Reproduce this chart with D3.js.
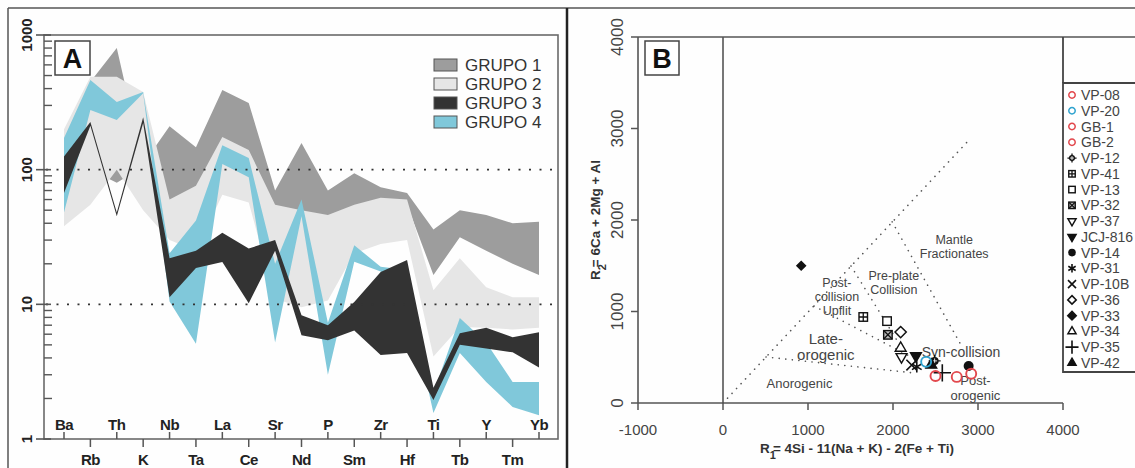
<!DOCTYPE html>
<html>
<head>
<meta charset="utf-8">
<script src="https://cdn.jsdelivr.net/npm/d3@7"></script>
<style>
  body { margin: 0; background: #fff; }
  svg { display: block; font-family: "Liberation Sans", Arial, sans-serif; }
</style>
</head>
<body>
<div id="container"></div>
<script>
// ---- Panel A: spider diagram bands (upper / lower envelope per group)
const elements = ["Ba","Rb","Th","K","Nb","Ta","La","Ce","Sr","Nd","P","Sm","Zr","Hf","Ti","Tb","Y","Tm","Yb"];

const g1Upper = [170, 450, 800, 110, 210, 147, 390, 313, 70, 158, 70, 94, 74, 67, 36, 50, 46, 40, 41];
const g1Lower = [80, 100, 80, 105, 57, 74, 120, 112, 50, 45, 42, 50, 57, 55, 16.5, 31.5, 25, 20, 16.5];

const g2Upper = [200, 490, 490, 377, 60, 76, 175, 140, 55, 50, 46, 55, 62, 60, 12.7, 22, 13.4, 11.3, 11.3];
const g2Lower = [38, 55, 100, 50, 30, 25, 65, 57, 11, 9.5, 10.7, 24, 28, 30, 4.1, 6.8, 6.7, 6.5, 6.7];

const g3Upper = [125, 226, 48, 245, 22, 25, 34, 26, 30, 8.3, 7.0, 10.4, 17.4, 21.3, 2.4, 6.1, 6.7, 5.7, 6.2];
const g3Lower = [67, 212, 45, 222, 11.3, 18.6, 20.6, 10.2, 25, 5.9, 5.4, 6.4, 4.2, 4.35, 1.95, 5.0, 4.7, 4.4, 3.4];

const g4Upper = [172, 463, 318, 377, 24, 42, 152, 122, 20, 60, 7.3, 27.5, 19, 18, 2.2, 7.9, 5.2, 2.65, 2.65];
const g4Lower = [48, 277, 234, 370, 10.5, 5.1, 110, 88, 5.2, 45, 3.0, 20.7, 17.5, 12, 1.56, 4.35, 2.65, 1.73, 1.5];

const groupNames = ["GRUPO 1", "GRUPO 2", "GRUPO 3", "GRUPO 4"];
const yTicksA = [1, 10, 100, 1000];

// ---- Panel B: R1-R2 diagram
const samples = ["VP-08","VP-20","GB-1","GB-2","VP-12","VP-41","VP-13","VP-32","VP-37","JCJ-816","VP-14","VP-31","VP-10B","VP-36","VP-33","VP-34","VP-35","VP-42"];
const sampleR1 = [2500, 2390, 2750, 2920, 2490, 1650, 1930, 1940, 2100, 2270, 2890, 2280, 2220, 2090, 920, 2090, 2580, 2450];
const sampleR2 = [295, 450, 285, 320, 460, 940, 895, 745, 505, 515, 405, 395, 415, 775, 1500, 600, 330, 415];
const sampleSymbols = ["circleRed","circleBlue","circleRed","circleRed","circleCross","squarePlus","square","squareX","triDown","triDownFill","dot","asterisk","times","diamond","diamondFill","tri","plus","triFill"];

const xTicksB = [-1000, 0, 1000, 2000, 3000, 4000];
const yTicksB = [0, 1000, 2000, 3000, 4000];

// field boundaries, in R1/R2 units
const fieldLines = [
  [[0, 0], [2870, 2850]],
  [[1990, 1980], [2800, 635]],
  [[1506, 1497], [2130, 560]],
  [[1070, 1060], [2190, 515]],
  [[506, 503], [2247, 328]]
];
const fieldLabels = [
  {lines: ["Mantle", "Fractionates"], r1: 2720, r2: 1740, size: 12.5},
  {lines: ["Pre-plate", "Collision"], r1: 2010, r2: 1340, size: 12.5},
  {lines: ["Post-", "collision", "Upflit"], r1: 1340, r2: 1270, size: 12.5},
  {lines: ["Late-", "orogenic"], r1: 1210, r2: 650, size: 15},
  {lines: ["Anorogenic"], r1: 900, r2: 165, size: 13},
  {lines: ["Syn-collision"], r1: 2800, r2: 500, size: 14},
  {lines: ["Post-", "orogenic"], r1: 2970, r2: 195, size: 13}
];

const svg = d3.select("#container")
  .append("svg")
  .attr("width", 1135)
  .attr("height", 468);

svg.append("rect").attr("width", 1135).attr("height", 468).attr("fill", "#fefefe");

// ================= PANEL A =================
const xA = d3.scalePoint().domain(elements).range([64, 539]);
const yA = d3.scaleLog().domain([1, 1000]).range([439, 35]);

const bands = [
  {up: g1Upper, lo: g1Lower, color: "#9d9d9d"},
  {up: g2Upper, lo: g2Lower, color: "#e6e6e6"},
  {up: g3Upper, lo: g3Lower, color: "#333333"},
  {up: g4Upper, lo: g4Lower, color: "#80c8da"}
];

const area = d3.area()
  .x((d, i) => xA(elements[i]))
  .y0(d => yA(d[1]))
  .y1(d => yA(d[0]));

const gA = svg.append("g");

// draw order: grupo 1, 2, 4, then 3 on top
[0, 1, 3, 2].forEach(k => {
  const b = bands[k];
  gA.append("path")
    .datum(b.up.map((u, i) => [u, b.lo[i]]))
    .attr("fill", b.color)
    .attr("d", area);
});

// dotted reference lines at 10 and 100
[10, 100].forEach(v => {
  gA.append("line")
    .attr("x1", 46).attr("x2", 556)
    .attr("y1", yA(v)).attr("y2", yA(v))
    .attr("stroke", "#333")
    .attr("stroke-width", 1.6)
    .attr("stroke-dasharray", "2,8.5");
});

// plot frame
gA.append("rect")
  .attr("x", 44).attr("y", 35).attr("width", 514).attr("height", 404)
  .attr("fill", "none").attr("stroke", "#6a6a6a").attr("stroke-width", 1.6);

// y ticks
yTicksA.forEach(v => {
  gA.append("line").attr("x1", 36).attr("x2", 51)
    .attr("y1", yA(v)).attr("y2", yA(v))
    .attr("stroke", "#555").attr("stroke-width", 1.6);
  gA.append("text")
    .attr("transform", `translate(32,${yA(v)}) rotate(-90)`)
    .attr("text-anchor", "middle")
    .attr("font-weight", "bold")
    .attr("font-size", 15)
    .attr("fill", "#222")
    .text(v);
});
[1, 10, 100].forEach(d => {
  d3.range(2, 10).forEach(k => {
    gA.append("line").attr("x1", 44).attr("x2", 52)
      .attr("y1", yA(d * k)).attr("y2", yA(d * k))
      .attr("stroke", "#555").attr("stroke-width", 1.4);
  });
});

// x ticks and element labels, alternating above / below
elements.forEach((e, i) => {
  const x = xA(e);
  const above = i % 2 === 0;
  gA.append("line")
    .attr("x1", x).attr("x2", x)
    .attr("y1", 439).attr("y2", above ? 432 : 447)
    .attr("stroke", "#555").attr("stroke-width", 1.5);
  gA.append("text")
    .attr("x", x)
    .attr("y", above ? 430 : 465)
    .attr("text-anchor", "middle")
    .attr("font-weight", "bold")
    .attr("font-size", 15)
    .attr("letter-spacing", -0.5)
    .attr("fill", "#222")
    .text(e);
});

// "A" label
gA.append("rect").attr("x", 55).attr("y", 41).attr("width", 35).attr("height", 34)
  .attr("fill", "#fff").attr("stroke", "#444").attr("stroke-width", 1.5);
gA.append("text").attr("x", 72.5).attr("y", 68).attr("text-anchor", "middle")
  .attr("font-weight", "bold").attr("font-size", 27).attr("fill", "#111").text("A");

// legend
const legA = gA.append("g").attr("transform", "translate(434,59)");
groupNames.forEach((name, i) => {
  const row = legA.append("g").attr("transform", `translate(0,${i * 19})`);
  row.append("rect").attr("width", 23).attr("height", 12)
    .attr("fill", bands[i].color).attr("stroke", "#555").attr("stroke-width", 1);
  row.append("text").attr("x", 31).attr("y", 12)
    .attr("font-size", 17).attr("fill", "#333").text(name);
});

// ================= PANEL B =================
const xB = d3.scaleLinear().domain([-1000, 4000]).range([638, 1063]);
const yB = d3.scaleLinear().domain([0, 4000]).range([403, 37]);
const gB = svg.append("g");

const axisColor = "#555";
// top line and plot edges
gB.append("line").attr("x1", 638).attr("x2", 1135).attr("y1", 37).attr("y2", 37)
  .attr("stroke", axisColor).attr("stroke-width", 1.6);
gB.append("line").attr("x1", 638).attr("x2", 638).attr("y1", 37).attr("y2", 403)
  .attr("stroke", axisColor).attr("stroke-width", 1.6);
gB.append("line").attr("x1", 638).attr("x2", 1063).attr("y1", 403).attr("y2", 403)
  .attr("stroke", axisColor).attr("stroke-width", 1.6);
gB.append("line").attr("x1", xB(0)).attr("x2", xB(0)).attr("y1", 37).attr("y2", 403)
  .attr("stroke", axisColor).attr("stroke-width", 1.6);

xTicksB.forEach(v => {
  gB.append("line").attr("x1", xB(v)).attr("x2", xB(v)).attr("y1", 403).attr("y2", 410)
    .attr("stroke", axisColor).attr("stroke-width", 1.5);
  gB.append("text").attr("x", xB(v)).attr("y", 435).attr("text-anchor", "middle")
    .attr("font-size", 15).attr("fill", "#444").text(v);
});
yTicksB.forEach(v => {
  gB.append("line").attr("x1", 631).attr("x2", 638).attr("y1", yB(v)).attr("y2", yB(v))
    .attr("stroke", axisColor).attr("stroke-width", 1.5);
  gB.append("text")
    .attr("transform", `translate(623,${yB(v)}) rotate(-90)`)
    .attr("text-anchor", "middle")
    .attr("font-size", 17).attr("fill", "#444").text(v);
});

// axis titles
const xt = gB.append("text").attr("x", 857).attr("y", 453).attr("text-anchor", "middle")
  .attr("font-weight", "bold").attr("font-size", 13.5).attr("fill", "#333");
xt.append("tspan").text("R");
xt.append("tspan").attr("dy", 6).attr("font-size", 11).text("1");
xt.append("tspan").attr("dy", -6).attr("dx", -3).text("= 4Si - 11(Na + K) - 2(Fe + Ti)");

const yt = gB.append("text").attr("transform", "translate(600,220) rotate(-90)")
  .attr("text-anchor", "middle")
  .attr("font-weight", "bold").attr("font-size", 13.5).attr("fill", "#333");
yt.append("tspan").text("R");
yt.append("tspan").attr("dy", 6).attr("font-size", 11).text("2");
yt.append("tspan").attr("dy", -6).attr("dx", -3).text("= 6Ca + 2Mg + Al");

// "B" label
gB.append("rect").attr("x", 645).attr("y", 41).attr("width", 34).attr("height", 34)
  .attr("fill", "#fff").attr("stroke", "#444").attr("stroke-width", 1.5);
gB.append("text").attr("x", 662).attr("y", 68).attr("text-anchor", "middle")
  .attr("font-weight", "bold").attr("font-size", 27).attr("fill", "#111").text("B");

// field boundaries
const fieldLine = d3.line().x(d => xB(d[0])).y(d => yB(d[1]));
fieldLines.forEach(seg => {
  gB.append("path").attr("d", fieldLine(seg))
    .attr("fill", "none").attr("stroke", "#555").attr("stroke-width", 1.6)
    .attr("stroke-linecap", "round").attr("stroke-dasharray", "0.1,6.5");
});

// field names
fieldLabels.forEach(f => {
  const t = gB.append("text").attr("text-anchor", "middle")
    .attr("font-size", f.size).attr("fill", "#444");
  f.lines.forEach((s, i) => {
    t.append("tspan").attr("x", xB(f.r1)).attr("y", yB(f.r2) + i * (f.size + 1.5)).text(s);
  });
});

// symbols
function drawSymbol(g, type, r) {
  const k = "#111";
  const sym = (t, area) => d3.symbol().type(t).size(area)();
  switch (type) {
    case "circleRed":
    case "circleBlue":
      g.append("circle").attr("r", r).attr("fill", "none")
        .attr("stroke", type === "circleRed" ? "#e2484d" : "#2fa3cf")
        .attr("stroke-width", Math.max(1.5, r * 0.38));
      break;
    case "dot":
      g.append("circle").attr("r", r).attr("fill", k);
      break;
    case "circleCross":
      g.append("circle").attr("r", r * 0.8).attr("fill", k);
      g.append("path").attr("d", `M${-r * 1.2},0H${r * 1.2}M0,${-r * 1.2}V${r * 1.2}`)
        .attr("stroke", k).attr("stroke-width", 1.3);
      g.append("path").attr("d", `M${-r * 0.5},0H${r * 0.5}M0,${-r * 0.5}V${r * 0.5}`)
        .attr("stroke", "#fff").attr("stroke-width", 0.9);
      break;
    case "square":
    case "squarePlus":
    case "squareX": {
      const s = r * 0.85;
      g.append("rect").attr("x", -s).attr("y", -s).attr("width", 2 * s).attr("height", 2 * s)
        .attr("fill", type === "squareX" ? "#bbb" : "#fff").attr("stroke", k).attr("stroke-width", 1.4);
      if (type === "squarePlus") {
        g.append("path").attr("d", `M${-s},0H${s}M0,${-s}V${s}`).attr("stroke", k).attr("stroke-width", 1.3);
      }
      if (type === "squareX") {
        g.append("path").attr("d", `M${-s},${-s}L${s},${s}M${-s},${s}L${s},${-s}`).attr("stroke", k).attr("stroke-width", 1.3);
      }
      break;
    }
    case "diamond":
    case "diamondFill":
      g.append("path").attr("d", sym(d3.symbolDiamond2, r * r * 3.2))
        .attr("fill", type === "diamondFill" ? k : "#fff").attr("stroke", k).attr("stroke-width", 1.5);
      break;
    case "tri":
    case "triFill":
    case "triDown":
    case "triDownFill":
      g.append("path").attr("d", sym(d3.symbolTriangle2, r * r * 3.4))
        .attr("transform", type.startsWith("triDown") ? "rotate(180)" : null)
        .attr("fill", type.endsWith("Fill") ? k : "#fff").attr("stroke", k).attr("stroke-width", 1.4);
      break;
    case "asterisk":
      g.append("path").attr("d", sym(d3.symbolAsterisk, r * r * 3.5)).attr("fill", "none").attr("stroke", k).attr("stroke-width", 1.6);
      break;
    case "times":
      g.append("path").attr("d", sym(d3.symbolTimes, r * r * 3)).attr("fill", "none").attr("stroke", k).attr("stroke-width", 1.6);
      break;
    case "plus":
      g.append("path").attr("d", sym(d3.symbolPlus, r * r * 4)).attr("fill", "none").attr("stroke", k).attr("stroke-width", 1.6);
      break;
  }
}

// points: draw in order so coloured circles sit on top of black marks
const order = d3.range(samples.length).sort((a, b) => {
  const ca = sampleSymbols[a].startsWith("circle") && sampleSymbols[a] !== "circleCross";
  const cb = sampleSymbols[b].startsWith("circle") && sampleSymbols[b] !== "circleCross";
  return ca - cb;
});
order.forEach(i => {
  const g = gB.append("g").attr("transform", `translate(${xB(sampleR1[i])},${yB(sampleR2[i])})`);
  drawSymbol(g, sampleSymbols[i], sampleSymbols[i] === "diamondFill" ? 3.8 : 5);
});

// legend box
gB.append("path")
  .attr("d", "M1136,83H1063V372H1136")
  .attr("fill", "#fff").attr("stroke", "#444").attr("stroke-width", 1.8);
gB.append("line").attr("x1", 1063).attr("x2", 1063).attr("y1", 37).attr("y2", 83)
  .attr("stroke", "#444").attr("stroke-width", 1.8);

samples.forEach((s, i) => {
  const cy = 95 + i * 15.76;
  const g = gB.append("g").attr("transform", `translate(1072,${cy})`);
  drawSymbol(g, sampleSymbols[i], sampleSymbols[i].startsWith("circle") && sampleSymbols[i] !== "circleCross" ? 3.2 : 3.8);
  gB.append("text").attr("x", 1081).attr("y", cy + 5)
    .attr("font-size", 14).attr("fill", "#444").text(s);
});

// outer frame
svg.append("line").attr("x1", 8).attr("x2", 1135).attr("y1", 8).attr("y2", 8)
  .attr("stroke", "#555").attr("stroke-width", 1.5);
svg.append("line").attr("x1", 8).attr("x2", 8).attr("y1", 8).attr("y2", 468)
  .attr("stroke", "#555").attr("stroke-width", 1.5);
svg.append("line").attr("x1", 567).attr("x2", 567).attr("y1", 8).attr("y2", 468)
  .attr("stroke", "#222").attr("stroke-width", 2.5);
</script>
</body>
</html>
